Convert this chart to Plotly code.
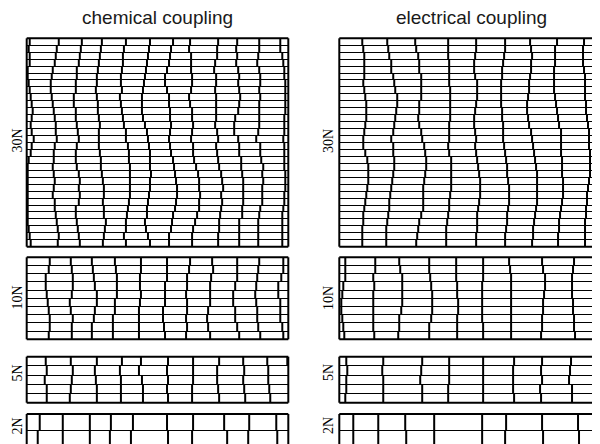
import plotly.graph_objects as go

# spike times (ms) for each neuron, top neuron first; window is 0..261 ms
T_MAX = 261

chem_30n = [
    [3, 32, 55, 75, 99, 123, 146, 163, 191, 210, 232, 253],
    [2, 30, 54, 74, 97, 122, 144, 162, 190, 209, 232, 253],
    [3, 29, 53, 73, 96, 121, 143, 164, 190, 210, 231, 255],
    [3, 28, 52, 72, 96, 120, 142, 164, 188, 209, 230, 256],
    [1, 26, 50, 71, 95, 119, 140, 164, 187, 211, 232, 257],
    [1, 25, 50, 70, 94, 118, 138, 165, 189, 212, 233, 257],
    [2, 24, 49, 70, 94, 117, 138, 165, 189, 211, 233, 258],
    [3, 24, 49, 69, 95, 116, 140, 164, 188, 212, 232, 258],
    [4, 25, 47, 70, 93, 115, 142, 162, 189, 213, 233, 258],
    [5, 26, 47, 71, 94, 115, 142, 163, 189, 212, 232, 258],
    [6, 27, 49, 71, 95, 115, 143, 165, 189, 211, 232, 258],
    [5, 28, 49, 72, 96, 116, 143, 165, 189, 208, 232, 257],
    [4, 29, 50, 73, 97, 118, 144, 166, 188, 207, 232, 257],
    [5, 29, 51, 72, 99, 120, 143, 165, 190, 207, 231, 257],
    [7, 30, 52, 72, 99, 121, 142, 164, 191, 211, 229, 256],
    [5, 28, 50, 72, 101, 122, 143, 166, 189, 212, 233, 257],
    [4, 27, 49, 73, 102, 123, 144, 166, 190, 212, 233, 257],
    [2, 27, 49, 74, 102, 123, 146, 167, 191, 214, 234, 257],
    [1, 26, 50, 74, 103, 123, 147, 169, 192, 214, 236, 257],
    [1, 27, 52, 75, 103, 124, 148, 171, 194, 215, 235, 258],
    [1, 28, 53, 76, 103, 123, 149, 172, 195, 216, 236, 258],
    [1, 27, 52, 77, 103, 123, 150, 172, 196, 216, 235, 258],
    [1, 26, 53, 77, 103, 122, 150, 173, 194, 216, 235, 257],
    [1, 28, 52, 76, 102, 121, 149, 172, 195, 216, 235, 257],
    [1, 28, 49, 77, 101, 120, 148, 172, 194, 215, 233, 256],
    [1, 29, 49, 77, 100, 120, 146, 170, 193, 215, 232, 255],
    [1, 30, 50, 79, 99, 118, 145, 168, 192, 212, 231, 255],
    [2, 31, 51, 78, 99, 119, 144, 166, 192, 212, 231, 255],
    [3, 32, 52, 77, 97, 121, 142, 165, 191, 212, 231, 255],
    [4, 31, 53, 76, 99, 123, 142, 165, 191, 212, 231, 255],
]

chem_10n = [
    [23, 44, 65, 88, 114, 140, 163, 185, 210, 232, 256],
    [22, 45, 66, 89, 114, 140, 162, 186, 210, 231, 256],
    [19, 46, 67, 90, 113, 140, 160, 184, 210, 230, 254],
    [19, 46, 68, 90, 113, 138, 160, 183, 208, 229, 251],
    [20, 45, 70, 90, 114, 138, 159, 183, 206, 228, 251],
    [21, 43, 70, 88, 113, 138, 160, 183, 206, 229, 253],
    [22, 44, 68, 88, 112, 136, 160, 181, 208, 230, 253],
    [23, 46, 67, 86, 112, 136, 159, 180, 208, 230, 253],
    [23, 45, 65, 86, 112, 137, 160, 181, 210, 231, 255],
    [22, 45, 65, 86, 112, 138, 159, 183, 212, 233, 256],
]

chem_5n = [
    [19, 44, 70, 95, 114, 141, 166, 192, 216, 240, 260],
    [20, 46, 68, 93, 112, 140, 166, 190, 217, 241],
    [18, 45, 69, 94, 115, 141, 166, 190, 216, 241],
    [20, 44, 70, 94, 116, 140, 165, 191, 217, 242],
    [20, 43, 70, 94, 116, 141, 165, 192, 218, 243],
]

chem_2n = [
    [13, 36, 63, 84, 106, 140, 166, 197, 222, 249],
    [11, 36, 63, 83, 104, 141, 165, 200, 221, 250],
]

elec_30n = [
    [23, 48, 76, 109, 137, 166, 191, 218, 245],
    [24, 49, 77, 109, 137, 166, 192, 216, 244],
    [25, 50, 79, 109, 136, 165, 193, 216, 244],
    [25, 52, 80, 110, 135, 164, 192, 216, 244],
    [25, 52, 80, 110, 135, 163, 192, 215, 245],
    [25, 54, 82, 110, 136, 163, 191, 215, 246],
    [24, 55, 82, 110, 138, 162, 190, 215, 246],
    [25, 56, 82, 111, 138, 162, 190, 215, 246],
    [26, 58, 82, 111, 138, 162, 189, 216, 246],
    [27, 58, 80, 111, 137, 162, 188, 217, 247],
    [27, 57, 80, 111, 136, 163, 188, 218, 247],
    [27, 56, 79, 111, 135, 163, 189, 219, 248],
    [26, 55, 80, 110, 135, 164, 190, 220, 249],
    [25, 54, 82, 110, 136, 164, 192, 222, 250],
    [24, 52, 83, 110, 137, 164, 193, 222, 250],
    [24, 54, 85, 109, 136, 165, 194, 222, 250],
    [26, 54, 86, 110, 137, 166, 195, 222, 251],
    [28, 55, 87, 112, 138, 167, 196, 223, 251],
    [29, 55, 87, 112, 139, 168, 197, 223, 251],
    [29, 54, 86, 112, 140, 168, 198, 223, 251],
    [29, 53, 85, 112, 141, 169, 198, 224, 250],
    [28, 52, 84, 112, 141, 170, 198, 224, 249],
    [27, 51, 84, 111, 141, 170, 198, 224, 248],
    [26, 50, 84, 110, 140, 170, 198, 223, 248],
    [25, 50, 84, 110, 139, 169, 197, 222, 247],
    [24, 49, 82, 109, 138, 168, 196, 221, 247],
    [24, 48, 80, 108, 138, 168, 195, 220, 246],
    [23, 47, 79, 107, 138, 167, 194, 220, 246],
    [23, 47, 78, 107, 137, 166, 194, 219, 246],
    [23, 47, 77, 107, 137, 166, 193, 219, 246],
]

elec_10n = [
    [6, 36, 60, 90, 117, 144, 170, 203, 235],
    [6, 36, 61, 90, 117, 144, 171, 204, 234],
    [6, 34, 63, 91, 117, 144, 172, 206, 233],
    [4, 35, 63, 92, 118, 143, 172, 206, 233],
    [3, 34, 63, 93, 118, 143, 172, 205, 233],
    [2, 34, 63, 93, 119, 143, 172, 204, 234],
    [2, 34, 62, 93, 119, 143, 172, 204, 234],
    [3, 34, 60, 92, 118, 143, 172, 203, 235],
    [4, 34, 60, 90, 118, 144, 172, 203, 235],
    [5, 35, 59, 90, 118, 144, 172, 202, 236],
]

elec_5n = [
    [7, 44, 83, 110, 144, 175, 203, 232],
    [8, 43, 82, 110, 144, 174, 202, 231],
    [7, 44, 81, 110, 144, 174, 203, 230],
    [7, 44, 83, 109, 144, 174, 201, 233],
    [6, 44, 83, 109, 144, 175, 202, 233],
]

elec_2n = [
    [14, 39, 66, 95, 143, 167, 203, 239],
    [14, 39, 67, 95, 143, 166, 204, 240],
]

row_labels = ["30N", "10N", "5N", "2N"]
col_titles = ["chemical coupling", "electrical coupling"]

panels = [
    (chem_30n, 0, 0), (chem_10n, 0, 1), (chem_5n, 0, 2), (chem_2n, 0, 3),
    (elec_30n, 1, 0), (elec_10n, 1, 1), (elec_5n, 1, 2), (elec_2n, 1, 3),
]

# page has an 8px body margin, so the figure fills 592x436 of the window
W, H = 592, 436
col_x = [(18.7, 280.3), (331.3, 592.0)]
row_y = [(30.3, 238.7), (249.3, 331.3), (348.7, 394.7), (406.0, 436.0)]
label_y = [133, 290, 365, 418]
title_x = [149.5, 463]


def spike_xy(rows):
    xs, ys = [], []
    for i, times in enumerate(rows):
        for t in times:
            xs += [t, t, None]
            ys += [i, i + 1, None]
    return xs, ys


fig = go.Figure()
shapes = []
layout_axes = {}

for k, (rows, c, r) in enumerate(panels):
    sfx = "" if k == 0 else str(k + 1)
    xs, ys = spike_xy(rows)
    fig.add_trace(go.Scatter(
        x=xs, y=ys, mode="lines",
        line=dict(color="black", width=2),
        xaxis=f"x{sfx}", yaxis=f"y{sfx}",
        hoverinfo="skip", showlegend=False,
    ))

    x0, x1 = col_x[c]
    y0, y1 = row_y[r]
    # 2N panel is cut by the bottom edge of the page (rows ~16 px tall)
    yr = [len(rows), 0] if r < 3 else [(y1 - y0) / 16.0, 0]

    layout_axes[f"xaxis{sfx}"] = dict(
        domain=[x0 / W, x1 / W], range=[0, T_MAX], anchor=f"y{sfx}",
        showgrid=False, zeroline=False, showticklabels=False, ticks="",
        fixedrange=True,
    )
    layout_axes[f"yaxis{sfx}"] = dict(
        domain=[1 - y1 / H, 1 - y0 / H], range=yr, anchor=f"x{sfx}",
        showgrid=True, gridcolor="black", gridwidth=1, dtick=1, tick0=0,
        zeroline=False, showticklabels=False, ticks="", fixedrange=True,
    )

    # frame: right column runs off the page on the right, bottom row off the bottom
    xd, yd = f"x{sfx} domain", f"y{sfx} domain"
    sides = [(0, 0, 0, 1), (0, 1, 1, 1)]
    if c == 0:
        sides.append((1, 0, 1, 1))
    if r < 3:
        sides.append((0, 0, 1, 0))
    for sx0, sy0, sx1, sy1 in sides:
        shapes.append(dict(type="line", xref=xd, yref=yd, x0=sx0, y0=sy0,
                           x1=sx1, y1=sy1, line=dict(color="black", width=2)))

label_font = dict(family="Liberation Serif, Times New Roman, serif", size=14, color="black")
annotations = []
for c in range(2):
    annotations.append(dict(
        text=col_titles[c], x=title_x[c] / W, y=1 - 10 / H, xref="paper", yref="paper",
        showarrow=False, xanchor="center", yanchor="middle",
        font=dict(family="Liberation Sans, Arial, sans-serif", size=19, color="#1a1a1a"),
    ))
    for r in range(4):
        # left labels sit at the page edge: anchor the box's left side at 0
        if c == 0:
            lx, anchor = 0, "left"
        else:
            lx, anchor = 320 / W, "center"
        annotations.append(dict(
            text=row_labels[r], x=lx, y=1 - label_y[r] / H,
            xref="paper", yref="paper", showarrow=False, textangle=-90,
            xanchor=anchor, yanchor="middle", borderpad=0,
            font=label_font,
        ))

fig.update_layout(
    width=W, height=H,
    margin=dict(l=0, r=0, t=0, b=0),
    paper_bgcolor="white", plot_bgcolor="white",
    showlegend=False, hovermode=False,
    shapes=shapes, annotations=annotations,
    **layout_axes,
)

fig.write_html("out.html", config={"displayModeBar": False})
